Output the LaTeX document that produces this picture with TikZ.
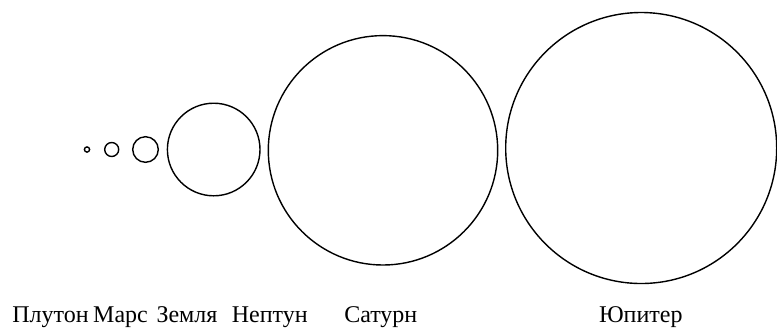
\documentclass[tikz,border=0pt]{standalone}
\usepackage{fontspec}
\setmainfont{Liberation Serif}
\usepackage{tikz}

\begin{document}
\begin{tikzpicture}[x=0.5pt,y=-0.5pt,line width=0.7pt,
  planet/.style={draw,circle,inner sep=0pt,outer sep=0pt},
  planetname/.style={anchor=base,inner sep=0pt,font=\fontsize{12}{14}\selectfont}]
\path[use as bounding box] (0,0) rectangle (777,329);

% planet discs (centre x, centre y, radius)
\foreach \id/\cx/\cy/\r in {pluto/87/149.5/2.6,mars/111.7/149.5/7,earth/145.5/149.5/12.8,
    neptune/213.7/149.5/46.3,saturn/383/150.3/114.7,jupiter/641.2/148/135.5}{
  \node[planet,minimum size=2*\r*0.5pt] (\id) at (\cx,\cy) {};
}

% names along the bottom
\node[planetname] (l-pluto)   at (50.5,322)  {Плутон};
\node[planetname] (l-mars)    at (120.5,322) {Марс};
\node[planetname] (l-earth)   at (187,322)   {Земля};
\node[planetname] (l-neptune) at (269.7,322) {Нептун};
\node[planetname] (l-saturn)  at (380.8,322) {Сатурн};
\node[planetname] (l-jupiter) at (640.8,322) {Юпитер};
\end{tikzpicture}
\end{document}
